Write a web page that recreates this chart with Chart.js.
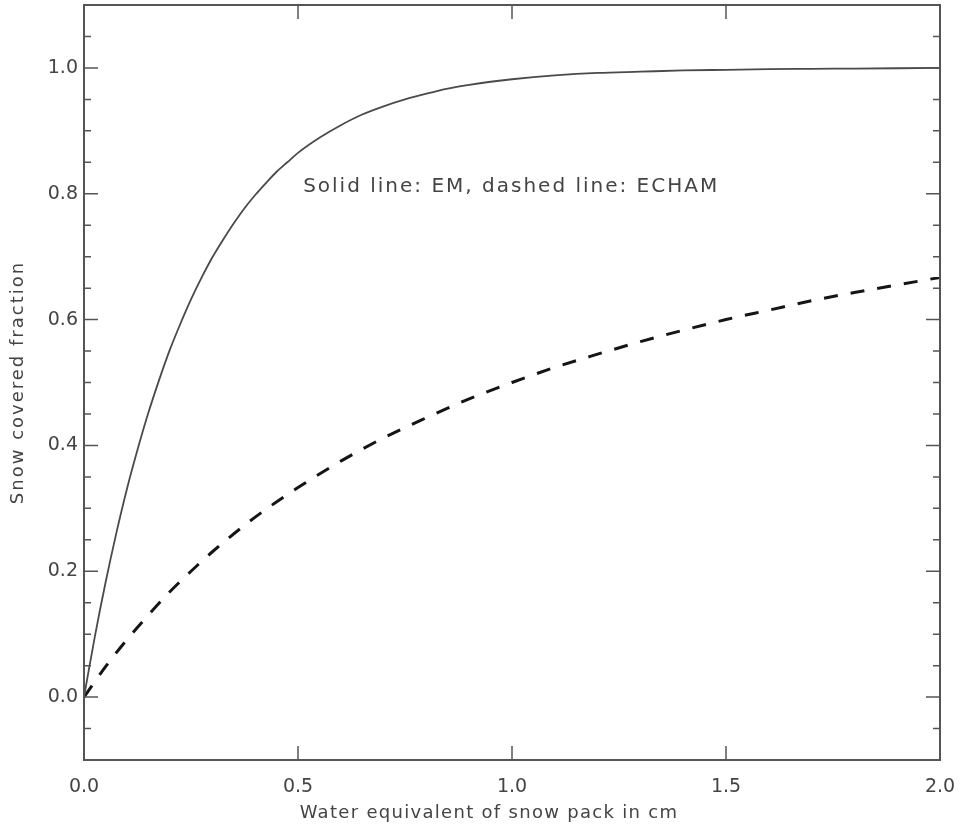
<!DOCTYPE html>
<html>
<head>
<meta charset="utf-8">
<script src="https://cdn.jsdelivr.net/npm/chart.js@4/dist/chart.umd.min.js"></script>
<style>
  html, body { margin: 0; padding: 0; background: #fff; }
  #wrap { position: relative; width: 961px; height: 832px; }
</style>
</head>
<body>
<div id="wrap"><canvas id="snowChart"></canvas></div>
<script>
// Werte
const emX = [0, 0.025, 0.05, 0.075, 0.1, 0.125, 0.15, 0.175, 0.2, 0.225, 0.25, 0.275, 0.3, 0.325, 0.35, 0.375, 0.4, 0.425, 0.45, 0.475, 0.5, 0.55, 0.6, 0.65, 0.7, 0.75, 0.8, 0.85, 0.9, 0.95, 1.0, 1.1, 1.2, 1.3, 1.4, 1.5, 1.6, 1.7, 1.8, 1.9, 2.0];
const emY = [0, 0.095, 0.181, 0.259, 0.330, 0.393, 0.451, 0.503, 0.551, 0.593, 0.632, 0.667, 0.699, 0.727, 0.753, 0.777, 0.798, 0.817, 0.835, 0.850, 0.865, 0.889, 0.909, 0.926, 0.939, 0.950, 0.959, 0.967, 0.973, 0.978, 0.982, 0.988, 0.992, 0.994, 0.996, 0.997, 0.998, 0.9985, 0.999, 0.9995, 1.0];

const echamX = [0, 0.05, 0.1, 0.15, 0.2, 0.25, 0.3, 0.4, 0.5, 0.6, 0.7, 0.8, 0.9, 1.0, 1.1, 1.2, 1.3, 1.4, 1.5, 1.6, 1.7, 1.8, 1.9, 2.0];
const echamY = [0, 0.048, 0.091, 0.13, 0.167, 0.2, 0.231, 0.286, 0.333, 0.375, 0.412, 0.444, 0.474, 0.5, 0.524, 0.545, 0.565, 0.583, 0.6, 0.615, 0.63, 0.643, 0.655, 0.667];

const annotationText = 'Solid line: EM, dashed line: ECHAM';
const annotationAt = { x: 0.512, y: 0.811 };

const xTitle = 'Water equivalent of snow pack in cm';
const yTitle = 'Snow covered fraction';

const axisColor = '#555';
const textColor = '#444';
const fontFamily = '"DejaVu Sans", sans-serif';

function toPoints(xs, ys) {
    return xs.map((x, i) => ({ x: x, y: ys[i] }));
}

function isMajorY(v) {
    const r = v / 0.2;
    return Math.abs(r - Math.round(r)) < 1e-6;
}

// Randabstände der Achsen wegnehmen, damit der Plotbereich fest bleibt
function noEdgePadding(scale) {
    scale.paddingLeft = 0;
    scale.paddingRight = 0;
    scale.paddingTop = 0;
    scale.paddingBottom = 0;
}

// Rahmen, Ticks nach innen, Achsentitel und Beschriftung im Plot
const framePlugin = {
    id: 'frame',
    afterDraw(chart) {
        const ctx = chart.ctx;
        const a = chart.chartArea;
        const xs = chart.scales.x;
        const ys = chart.scales.y;
        ctx.save();
        ctx.strokeStyle = axisColor;
        ctx.lineWidth = 2;
        ctx.strokeRect(a.left, a.top, a.right - a.left, a.bottom - a.top);

        ctx.lineWidth = 1.5;
        ys.ticks.forEach(t => {
            const py = ys.getPixelForValue(t.value);
            if (py <= a.top + 1 || py >= a.bottom - 1) return;
            const len = isMajorY(t.value) ? 14 : 7;
            ctx.beginPath();
            ctx.moveTo(a.left, py); ctx.lineTo(a.left + len, py);
            ctx.moveTo(a.right, py); ctx.lineTo(a.right - len, py);
            ctx.stroke();
        });
        xs.ticks.forEach(t => {
            const px = xs.getPixelForValue(t.value);
            if (px <= a.left + 1 || px >= a.right - 1) return;
            ctx.beginPath();
            ctx.moveTo(px, a.bottom); ctx.lineTo(px, a.bottom - 14);
            ctx.moveTo(px, a.top); ctx.lineTo(px, a.top + 14);
            ctx.stroke();
        });

        ctx.fillStyle = textColor;
        ctx.textBaseline = 'middle';

        ctx.letterSpacing = '2px';
        ctx.font = '20px ' + fontFamily;
        ctx.textAlign = 'left';
        ctx.fillText(annotationText, xs.getPixelForValue(annotationAt.x), ys.getPixelForValue(annotationAt.y));

        ctx.letterSpacing = '1.3px';
        ctx.font = '18px ' + fontFamily;
        ctx.textAlign = 'center';
        ctx.fillText(xTitle, 489, 813);

        ctx.letterSpacing = '2px';
        ctx.translate(18, (a.top + a.bottom) / 2);
        ctx.rotate(-Math.PI / 2);
        ctx.fillText(yTitle, 0, 0);
        ctx.restore();
    }
};

const ctx = document.getElementById('snowChart').getContext('2d');

new Chart(ctx, {
    type: 'line',
    data: {
        datasets: [
            {
                label: 'EM',
                data: toPoints(emX, emY),
                borderColor: '#4a4a4a',
                borderWidth: 1.8,
                pointRadius: 0,
                cubicInterpolationMode: 'monotone',
                fill: false
            },
            {
                label: 'ECHAM',
                data: toPoints(echamX, echamY),
                borderColor: '#151515',
                borderWidth: 3,
                borderDash: [14, 13],
                pointRadius: 0,
                cubicInterpolationMode: 'monotone',
                fill: false
            }
        ]
    },
    options: {
        responsive: true,
        maintainAspectRatio: false,
        animation: false,
        layout: { padding: { top: 5, right: 21, left: 0, bottom: 0 } },
        plugins: {
            legend: { display: false },
            tooltip: { enabled: false }
        },
        scales: {
            x: {
                type: 'linear',
                min: 0,
                max: 2.0,
                afterFit(scale) { scale.height = 72; noEdgePadding(scale); },
                grid: { display: false, drawTicks: false },
                border: { display: false },
                ticks: {
                    stepSize: 0.5,
                    padding: 16,
                    color: textColor,
                    font: { family: fontFamily, size: 19 },
                    maxRotation: 0,
                    callback: v => v.toFixed(1)
                }
            },
            y: {
                type: 'linear',
                min: -0.1,
                max: 1.1,
                afterFit(scale) { scale.width = 84; noEdgePadding(scale); },
                grid: { display: false, drawTicks: false },
                border: { display: false },
                ticks: {
                    stepSize: 0.05,
                    autoSkip: false,
                    padding: 6,
                    color: textColor,
                    font: { family: fontFamily, size: 19 },
                    callback: v => isMajorY(v) ? v.toFixed(1) : ''
                }
            }
        }
    },
    plugins: [framePlugin]
});
</script>
</body>
</html>
